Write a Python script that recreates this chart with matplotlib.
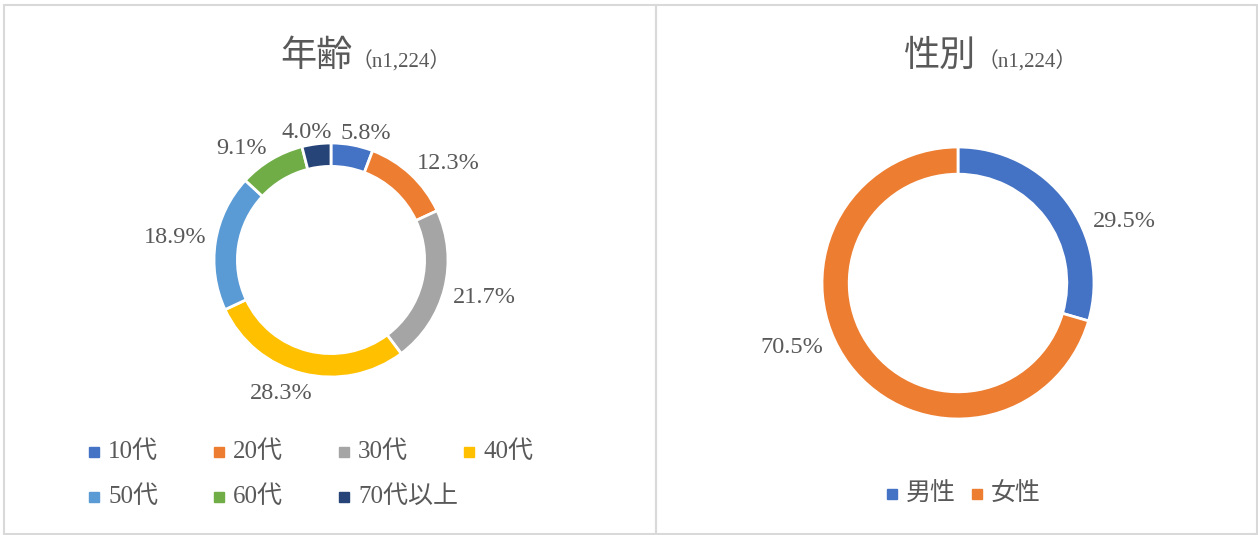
import numpy as np
import matplotlib.pyplot as plt
from matplotlib.patches import Rectangle

# data
age_labels = ['10代', '20代', '30代', '40代', '50代', '60代', '70代以上']
age_values = [5.8, 12.3, 21.7, 28.3, 18.9, 9.1, 4.0]
age_colors = ['#4472C4', '#ED7D31', '#A5A5A5', '#FFC000', '#5B9BD5', '#70AD47', '#264478']

sex_labels = ['男性', '女性']
sex_values = [29.5, 70.5]
sex_colors = ['#4472C4', '#ED7D31']

n_text = '（n1,224）'

W, H = 1258, 535
FONT = ['Liberation Serif', 'Noto Sans CJK JP', 'DejaVu Sans']
GRAY = '#595959'
plt.rcParams['font.family'] = FONT

fig = plt.figure(figsize=(W / 100, H / 100), dpi=100)

# overlay in pixel coords for frame, titles, legends
bg = fig.add_axes([0, 0, 1, 1])
bg.set_xlim(0, W)
bg.set_ylim(H, 0)
bg.axis('off')
for x0, x1 in [(4, 656), (656, 1257)]:
    bg.add_patch(Rectangle((x0, 5), x1 - x0, 529, fill=False, ec='#D9D9D9', lw=1.5))


def donut(cx, cy, R, values, colors, rot=0.0):
    ax = fig.add_axes([(cx - R) / W, (H - cy - R) / H, 2 * R / W, 2 * R / H])
    ax.pie(values, colors=colors, startangle=90, counterclock=False, radius=1,
           wedgeprops=dict(width=0.2, edgecolor='white', linewidth=2))
    ax.set_xlim(-1, 1)
    ax.set_ylim(-1, 1)
    ax.set_aspect('equal')
    ax.axis('off')
    total = sum(values)
    cum = 0
    for v in values:
        lab = f'{v:.1f}%'
        mid = (cum + v / 2) / total * 2 * np.pi + np.radians(rot)
        cum += v
        s, c = np.sin(mid), np.cos(mid)
        lab_w, lab_h = 13 * len(lab), 24
        gap = 1 + 8 / R
        dx = np.clip(2.5 * s, -1, 1) * lab_w / 2 / R
        # labels above the ring sit a bit lower in the original
        dy = np.clip(2.5 * c, -1, 1) * lab_h / 2 / R - max(c, 0) * 9 / R
        ax.text(s * gap + dx, c * gap + dy, lab, ha='center', va='center',
                fontsize=17.5, color=GRAY, clip_on=False)
    return ax


donut(331, 260, 117, age_values, age_colors)
donut(958, 283, 136, sex_values, sex_colors, rot=15)

# titles
bg.text(353, 57, '年齢', ha='right', va='center', fontsize=26, color=GRAY)
bg.text(352, 62, n_text, ha='left', va='center', fontsize=15, color=GRAY)
bg.text(976, 57, '性別', ha='right', va='center', fontsize=26, color=GRAY)
bg.text(978, 62, n_text, ha='left', va='center', fontsize=15, color=GRAY)


def legend(labels, colors, x0, y0, pitch_x, pitch_y, ncol):
    for i, (lab, col) in enumerate(zip(labels, colors)):
        x = x0 + (i % ncol) * pitch_x
        y = y0 + (i // ncol) * pitch_y
        bg.add_patch(Rectangle((x - 5, y - 5), 10, 10, color=col))
        bg.text(x + 14, y, lab, ha='left', va='center', fontsize=18, color=GRAY)


legend(age_labels, age_colors, 94, 452, 125, 45, 4)
legend(sex_labels, sex_colors, 892, 494, 85, 45, 2)

fig.savefig('out.png', dpi=100)
